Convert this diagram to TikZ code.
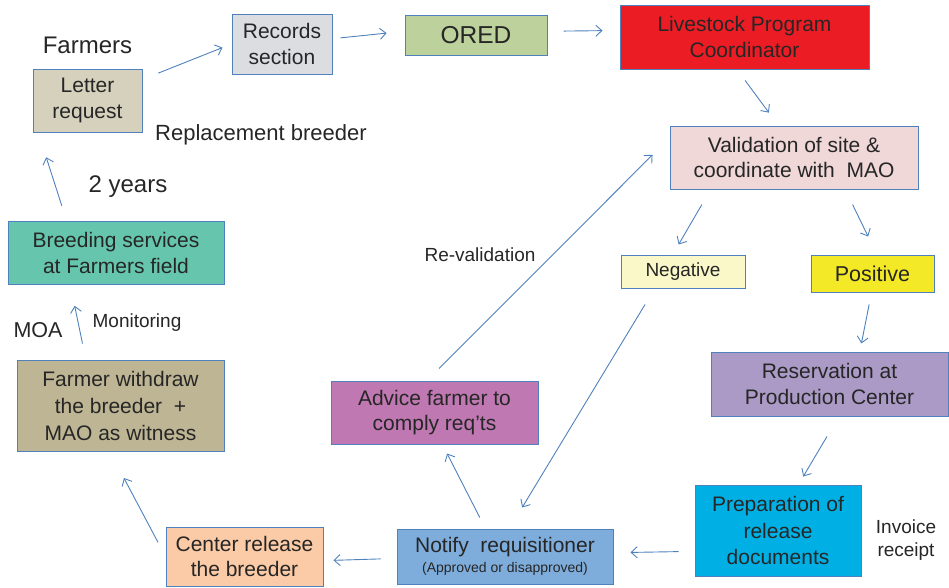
\documentclass[tikz,border=0pt]{standalone}
\usepackage{fontspec}
\setmainfont{Liberation Sans}
\usetikzlibrary{arrows.meta, positioning}

\definecolor{edgeblue}{HTML}{4F81BD}
\definecolor{inkgray}{HTML}{262626}
\definecolor{lettertan}{HTML}{D6D1BD}
\definecolor{recordgray}{HTML}{DCDDE1}
\definecolor{oredgreen}{HTML}{BCD19B}
\definecolor{coordred}{HTML}{EC1C24}
\definecolor{validpink}{HTML}{EFD8D7}
\definecolor{negyellow}{HTML}{FAF8C8}
\definecolor{posyellow}{HTML}{F3E926}
\definecolor{reservelilac}{HTML}{AA9AC5}
\definecolor{preparecyan}{HTML}{00B0E5}
\definecolor{notifyblue}{HTML}{7EADDC}
\definecolor{releasepeach}{HTML}{FBCAA6}
\definecolor{advicemauve}{HTML}{BF78B2}
\definecolor{withdrawkhaki}{HTML}{BEB594}
\definecolor{breedingteal}{HTML}{66C6AD}

\begin{document}
\begin{tikzpicture}[x=1pt, y=-1pt,
    stage/.style={draw=edgeblue, line width=1pt, inner sep=0pt, align=center,
        text=inkgray, font=\fontsize{21}{25.5}\selectfont},
    flow/.style={-{Straight Barb[length=6pt, width=11pt]}, draw=edgeblue, line width=0.9pt},
    note/.style={text=inkgray, align=center, anchor=base}]
        \useasboundingbox (0,0) rectangle (949,587);

        % boxes
        \node[stage, fill=lettertan, minimum width=109pt, minimum height=63pt] (letter) at (87.5,100.5) {Letter\\request};
        \node[stage, fill=recordgray, minimum width=100pt, minimum height=60pt] (records) at (282,44) {Records\\section};
        \node[stage, fill=oredgreen, minimum width=142pt, minimum height=40pt, font=\fontsize{24.5}{28}\selectfont] (ored) at (476,35) {ORED};
        \node[stage, fill=coordred, minimum width=249pt, minimum height=64pt] (coord) at (744.5,37) {Livestock Program\\Coordinator};
        \node[stage, fill=validpink, minimum width=248pt, minimum height=63pt] (valid) at (794,157.5) {Validation of site \&\\coordinate with\ \ MAO};
        \node[stage, fill=negyellow, minimum width=124pt, minimum height=33pt, font=\fontsize{19}{22}\selectfont] (negative) at (683,271.5) {Negative};
        \node[stage, fill=posyellow, minimum width=123pt, minimum height=37pt, font=\fontsize{21.5}{25}\selectfont] (positive) at (872.5,273.5) {Positive};
        \node[stage, fill=reservelilac, minimum width=237pt, minimum height=64pt] (reserve) at (829.5,384) {Reservation at\\Production Center};
        \node[stage, fill=preparecyan, minimum width=166pt, minimum height=91pt, font=\fontsize{21}{26.5}\selectfont] (prepare) at (778,530.5) {Preparation of\\release\\documents};
        \node[stage, fill=notifyblue, minimum width=216pt, minimum height=55pt] (notify) at (505,556.5) {Notify\ \ requisitioner\\[-5pt]{\fontsize{14}{16}\selectfont(Approved or disapproved)}};
        \node[stage, fill=releasepeach, minimum width=157pt, minimum height=59pt] (release) at (244.5,556.5) {Center release\\the breeder};
        \node[stage, fill=advicemauve, minimum width=207pt, minimum height=63pt] (advice) at (434.5,412.5) {Advice farmer to\\comply req'ts};
        \node[stage, fill=withdrawkhaki, minimum width=207pt, minimum height=91pt, font=\fontsize{21}{27}\selectfont] (withdraw) at (120.5,405.5) {Farmer withdraw\\the breeder\ \ +\\MAO as witness};
        \node[stage, fill=breedingteal, minimum width=216pt, minimum height=63pt] (breeding) at (116,253) {Breeding services\\at Farmers field};

        % labels
        \node[text=inkgray, font=\fontsize{24}{28}\selectfont, above=11pt of letter] (farmers) {Farmers};
        \node[note, font=\fontsize{22}{26}\selectfont] (replace) at (261,140) {Replacement breeder};
        \node[note, font=\fontsize{24}{28}\selectfont] (years) at (128,192.5) {2 years};
        \node[note, font=\fontsize{21.5}{25}\selectfont] (moa) at (38,337) {MOA};
        \node[note, font=\fontsize{19}{22}\selectfont] (monitor) at (137,327.5) {Monitoring};
        \node[note, font=\fontsize{19}{22}\selectfont] (reval) at (480,261) {Re-validation};
        \node[note, font=\fontsize{19}{23.3}\selectfont] (invoice) at (906,556.7) {Invoice\\receipt};

        % connectors
        \draw[flow, shorten <=17pt, shorten >=9.7pt] (letter.21) -- (records.west);
        \draw[flow, shorten <=8pt, shorten >=18pt] (records.6) -- (ored.177);
        \draw[flow, shorten <=16pt, shorten >=17pt] (ored.3) -- (coord.177);
        \draw[flow, shorten <=13.6pt, shorten >=16pt] (coord.257) -- (valid.116);
        \draw[flow, shorten <=17.4pt, shorten >=11.6pt] (valid.201) -- (negative.121);
        \draw[flow, shorten <=16.7pt, shorten >=20pt] (valid.328) -- (positive.77);
        \draw[flow, shorten <=12.2pt, shorten >=8.2pt] (positive.267) -- (reserve.47);
        \draw[flow, shorten <=23.2pt, shorten >=9.3pt] (reserve.286) -- (prepare.66);
        \draw[flow, shorten <=16pt, shorten >=17pt] (prepare.194.5) -- (notify.2.4);
        \draw[flow, shorten <=16pt, shorten >=10pt] (notify.181.9) -- (release.357.4);
        \draw[flow, shorten <=16pt, shorten >=30pt] (release.west) -- (withdraw.257.4);
        \draw[flow, shorten <=12.3pt, shorten >=10.1pt] (notify.125.2) -- (advice.284);
        \draw[flow, shorten <=17pt, shorten >=24pt] (advice.103.4) -- (valid.171.1);
        \draw[flow, shorten <=18.7pt, shorten >=24.6pt] (negative.211.1) -- (notify.81.3);
        \draw[flow, shorten <=16.3pt, shorten >=21.3pt] (withdraw.127.3) -- (breeding.215.7);
        \draw[flow, shorten <=16pt, shorten >=26pt] (breeding.147.3) -- (letter.213);
\end{tikzpicture}
\end{document}
